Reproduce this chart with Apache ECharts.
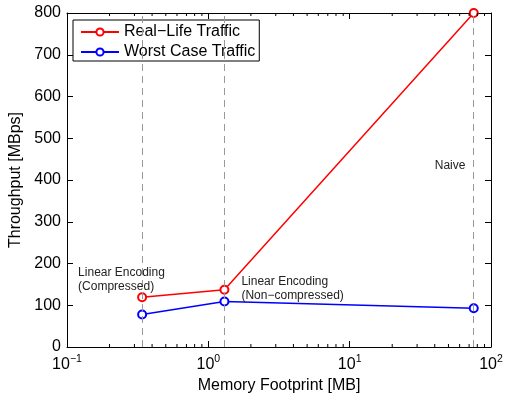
<!DOCTYPE html>
<html>
<head>
<meta charset="utf-8">
<script src="https://cdn.jsdelivr.net/npm/echarts@6/dist/echarts.min.js"></script>
<style>
  html, body { margin: 0; padding: 0; background: #fff; }
  #chart { width: 508px; height: 395px; }
</style>
</head>
<body>
<div id="chart"></div>
<script>
// Memory footprint (MB) of each encoding scheme
const footprint = [0.34, 1.3, 75.5];
// Throughput (MBps) for each traffic profile
const realLife = [119, 137, 800];
const worstCase = [78, 109, 93];
const seriesNames = ['Real\u2212Life Traffic', 'Worst Case Traffic'];
const yTicks = [0, 100, 200, 300, 400, 500, 600, 700, 800];
const xMajor = [0.1, 1, 10, 100];
const notes = [
  { text: 'Linear Encoding\n(Compressed)' },
  { text: 'Linear Encoding\n(Non\u2212compressed)' },
  { text: 'Naive' }
];

const FONT = 'Liberation Sans, Arial, Helvetica, sans-serif';
const chart = echarts.init(document.getElementById('chart'), null, { renderer: 'canvas' });

function expLabel(v) {
  const e = Math.round(Math.log10(v));
  return '{b|10}{s|' + (e < 0 ? '\u2212' + (-e) : e) + '}';
}

const grid = { left: 67, right: 17, top: 13, bottom: 48, containLabel: false, outerBoundsMode: 'none' };

const baseX = {
  type: 'log', logBase: 10, min: xMajor[0], max: xMajor[xMajor.length - 1],
  axisLine: { show: true, onZero: false, lineStyle: { color: '#000', width: 1 } },
  axisTick: { show: true, inside: true, length: 6, lineStyle: { color: '#000' } },
  splitLine: { show: false }
};
const baseY = {
  type: 'value', min: yTicks[0], max: yTicks[yTicks.length - 1], interval: 100,
  axisLine: { show: true, onZero: false, lineStyle: { color: '#000', width: 1 } },
  axisTick: { show: true, inside: true, length: 6, lineStyle: { color: '#000' } },
  splitLine: { show: false }
};

chart.setOption({
  animation: false,
  backgroundColor: '#fff',
  textStyle: { fontFamily: FONT },
  grid: grid,
  legend: {
    left: 73, top: 20, orient: 'vertical',
    backgroundColor: '#fff', borderColor: '#000', borderWidth: 1,
    padding: [4, 4, 1, 7], itemGap: 4,
    itemWidth: 38, itemHeight: 9,
    textStyle: { fontSize: 16, lineHeight: 16, color: '#000', fontFamily: FONT },
    data: seriesNames
  },
  xAxis: [
    Object.assign({}, baseX, {
      position: 'bottom',
      name: 'Memory Footprint [MB]', nameLocation: 'middle', nameGap: 29,
      nameTextStyle: { fontSize: 16, color: '#000', fontFamily: FONT },
      axisLabel: {
        show: true, margin: 7, color: '#000',
        formatter: expLabel,
        rich: {
          b: { fontSize: 16, fontFamily: FONT, color: '#000', verticalAlign: 'bottom' },
          s: { fontSize: 10.5, fontFamily: FONT, color: '#000', verticalAlign: 'bottom', padding: [0, 0, 8, 0] }
        }
      }
    }),
    Object.assign({}, baseX, { position: 'top', axisLabel: { show: false } })
  ],
  yAxis: [
    Object.assign({}, baseY, {
      position: 'left',
      name: 'Throughput [MBps]', nameLocation: 'middle', nameGap: 43,
      nameTextStyle: { fontSize: 16, color: '#000', fontFamily: FONT },
      axisLabel: { show: true, margin: 6, fontSize: 16, color: '#000', fontFamily: FONT }
    }),
    Object.assign({}, baseY, { position: 'right', axisLabel: { show: false } })
  ],
  series: [
    {
      name: seriesNames[0], type: 'line',
      data: footprint.map((x, i) => [x, realLife[i]]),
      symbol: 'emptyCircle', symbolSize: 8,
      lineStyle: { color: '#ff0000', width: 1.5 },
      itemStyle: { color: '#ff0000', borderWidth: 1.5 },
      z: 3,
      markLine: {
        silent: true, symbol: 'none', label: { show: false },
        lineStyle: { color: '#999', width: 1, type: [7, 5] },
        data: footprint.map(x => ({ xAxis: x }))
      }
    },
    {
      name: seriesNames[1], type: 'line',
      data: footprint.map((x, i) => [x, worstCase[i]]),
      symbol: 'emptyCircle', symbolSize: 8,
      lineStyle: { color: '#0000ff', width: 1.5 },
      itemStyle: { color: '#0000ff', borderWidth: 1.5 },
      z: 3
    }
  ]
});

// Minor ticks of the log axis (2..9 within each decade), on bottom and top edges
function drawExtras() {
  const els = [];
  const top = grid.top;
  const bottom = chart.getHeight() - grid.bottom;
  for (let d = 0; d < xMajor.length - 1; d++) {
    for (let m = 2; m <= 9; m++) {
      const v = xMajor[d] * m;
      const px = chart.convertToPixel({ xAxisIndex: 0 }, v);
      els.push({ type: 'line', shape: { x1: px, y1: bottom, x2: px, y2: bottom - 3 },
        style: { stroke: '#000', lineWidth: 1 }, silent: true, z: 10 });
      els.push({ type: 'line', shape: { x1: px, y1: top, x2: px, y2: top + 3 },
        style: { stroke: '#000', lineWidth: 1 }, silent: true, z: 10 });
    }
  }
  // Annotations next to each encoding scheme
  const p0 = chart.convertToPixel({ xAxisIndex: 0, yAxisIndex: 0 }, [footprint[0], realLife[0]]);
  const p1 = chart.convertToPixel({ xAxisIndex: 0, yAxisIndex: 0 }, [footprint[1], realLife[1]]);
  const p2 = chart.convertToPixel({ xAxisIndex: 0, yAxisIndex: 0 }, [footprint[2], 0]);
  const noteStyle = { fontSize: 12, fontFamily: FONT, fill: '#222', lineHeight: 14 };
  els.push({ type: 'text', x: p0[0] - 64, y: p0[1] - 32,
    style: Object.assign({ text: notes[0].text }, noteStyle), silent: true, z: 10 });
  els.push({ type: 'text', x: p1[0] + 17, y: p1[1] - 15,
    style: Object.assign({ text: notes[1].text }, noteStyle), silent: true, z: 10 });
  els.push({ type: 'text', x: p2[0] - 39, y: chart.convertToPixel({ yAxisIndex: 0 }, 450),
    style: Object.assign({ text: notes[2].text }, noteStyle), silent: true, z: 10 });
  chart.setOption({ graphic: els });
}
drawExtras();
</script>
</body>
</html>
